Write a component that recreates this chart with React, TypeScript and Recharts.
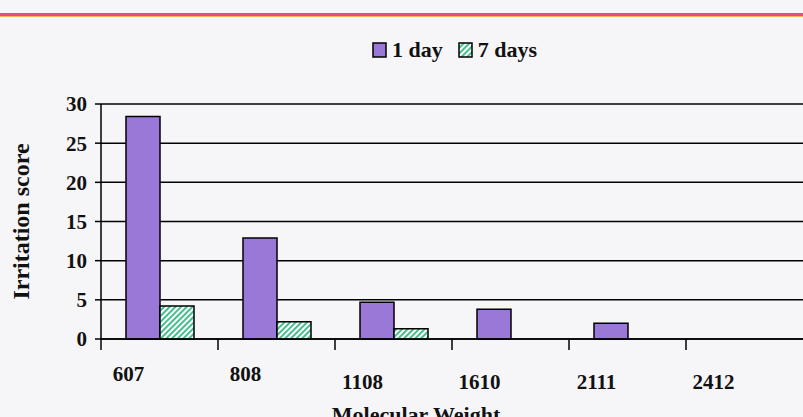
import React from 'react';
import { BarChart, Bar, XAxis, YAxis, CartesianGrid } from 'recharts';

const categories = ['607', '808', '1108', '1610', '2111', '2412'];
const oneDay = [28.4, 12.9, 4.7, 3.8, 2.0, 0];
const sevenDays = [4.2, 2.2, 1.3, 0, 0, 0];
const yTicks = [0, 5, 10, 15, 20, 25, 30];

const data = categories.map((c, i) => ({ mw: c, d1: oneDay[i], d7: sevenDays[i] }));

const FONT = '"Liberation Serif", "Times New Roman", serif';
const PURPLE = '#9a78d8';
const GREEN = '#45bf8c';

const XTick = (props: any) => {
  const { x, y, payload, index } = props;
  const band = 117;
  const left = x - band / 2;
  const stagger = index < 2 ? 0 : 8;
  return (
    <g>
      <line x1={left} y1={y - 8} x2={left} y2={y + 3} stroke="#000" strokeWidth={1.5} />
      <text x={x - 31} y={y + 34 + stagger} textAnchor="middle" fontFamily={FONT} fontWeight="bold" fontSize={21} fill="#111">
        {payload.value}
      </text>
    </g>
  );
};

const LegendBox = () => (
  <div style={{ position: 'absolute', left: 372, top: 38, display: 'flex', alignItems: 'center', fontFamily: FONT, fontWeight: 'bold', fontSize: 22, color: '#111', lineHeight: '24px' }}>
    <svg width={15} height={16} style={{ marginRight: 5 }}>
      <rect x={1} y={1} width={13} height={14} fill={PURPLE} stroke="#000" strokeWidth={1.5} />
    </svg>
    <span style={{ marginRight: 15 }}>1 day</span>
    <svg width={15} height={16} style={{ marginRight: 5 }}>
      <defs>
        <pattern id="hatchL" patternUnits="userSpaceOnUse" width={4} height={4} patternTransform="rotate(45)">
          <rect width={4} height={4} fill="#fff" />
          <rect width={2} height={4} fill={GREEN} />
        </pattern>
      </defs>
      <rect x={1} y={1} width={13} height={14} fill="url(#hatchL)" stroke="#000" strokeWidth={1.5} />
    </svg>
    <span>7 days</span>
  </div>
);

export default function App() {
  return (
    <div style={{ position: 'absolute', left: 0, top: 0, width: 803, height: 417, background: '#f6f5f7', overflow: 'hidden' }}>
      <div style={{ position: 'absolute', left: 0, top: 13, width: 803, height: 3, background: '#ea4a7c' }} />
      <div style={{ position: 'absolute', left: 0, top: 16, width: 803, height: 1, background: '#f0b060' }} />
      <LegendBox />
      <BarChart
        width={803}
        height={417}
        data={data}
        margin={{ top: 104, right: 0, left: 0, bottom: 0 }}
        barSize={34}
        barGap={0}
      >
        <defs>
          <pattern id="hatch" patternUnits="userSpaceOnUse" width={4} height={4} patternTransform="rotate(45)">
            <rect width={4} height={4} fill="#fff" />
            <rect width={2} height={4} fill={GREEN} />
          </pattern>
        </defs>
        <CartesianGrid vertical={false} stroke="#000" strokeWidth={1.5} />
        <YAxis
          width={101}
          domain={[0, 30]}
          ticks={yTicks}
          interval={0}
          axisLine={{ stroke: '#000', strokeWidth: 1.5 }}
          tickLine={{ stroke: '#000', strokeWidth: 1.5 }}
          tickSize={6}
          tickMargin={8}
          tick={{ fontFamily: FONT, fontWeight: 'bold', fontSize: 21, fill: '#111' }}
          label={{ value: 'Irritation score', angle: -90, position: 'insideLeft', dx: 15, dy: 0, style: { fontFamily: FONT, fontWeight: 'bold', fontSize: 24, fill: '#111', textAnchor: 'middle' } }}
        />
        <XAxis
          dataKey="mw"
          height={78}
          interval={0}
          axisLine={{ stroke: '#000', strokeWidth: 1.5 }}
          tickLine={false}
          tick={<XTick />}
          label={{ value: 'Molecular Weight', position: 'insideBottom', dx: -36, dy: 10, style: { fontFamily: FONT, fontWeight: 'bold', fontSize: 22, fill: '#111' } }}
        />
        <Bar dataKey="d1" name="1 day" fill={PURPLE} stroke="#000" strokeWidth={1.5} isAnimationActive={false} />
        <Bar dataKey="d7" name="7 days" fill="url(#hatch)" stroke="#000" strokeWidth={1.5} isAnimationActive={false} />
      </BarChart>
    </div>
  );
}
